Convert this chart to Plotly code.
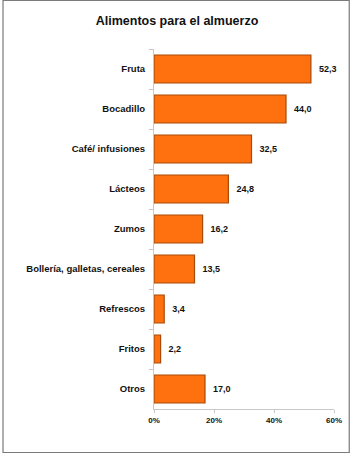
import plotly.graph_objects as go

categories = ["Fruta", "Bocadillo", "Café/ infusiones", "Lácteos", "Zumos",
              "Bollería, galletas, cereales", "Refrescos", "Fritos", "Otros"]
values = [52.3, 44.0, 32.5, 24.8, 16.2, 13.5, 3.4, 2.2, 17.0]
labels = ["\u00a0\u00a0" + f"{v:.1f}".replace(".", ",") for v in values]
x_ticks = [0, 20, 40, 60]
x_ticklabels = ["0%", "20%", "40%", "60%"]

W, H = 354, 455
L, R, T, B = 154, 17, 49, 46
pw, ph = W - L - R, H - T - B

def px(x):
    return (x - L) / pw

def py(y):
    return (H - B - y) / ph

fig = go.Figure()
fig.add_trace(go.Bar(
    x=values, y=categories, orientation="h",
    marker=dict(color="#FF700F", line=dict(color="#A84A08", width=1.2)),
    width=0.7,
    text=labels, textposition="outside", cliponaxis=False,
    textfont=dict(family="Liberation Sans, Arial", size=9, color="#111111", weight="bold"),
    hoverinfo="skip",
))

fig.update_layout(
    width=W, height=H,
    margin=dict(l=L, r=R, t=T, b=B),
    paper_bgcolor="white", plot_bgcolor="white",
    showlegend=False,
    title=dict(text="<b>Alimentos para el almuerzo</b>", x=0.5, xref="container",
               xanchor="center", y=1 - 21 / H, yanchor="middle",
               font=dict(family="Liberation Sans, Arial", size=12.5, color="#111111")),
    font=dict(family="Liberation Sans, Arial", color="#111111"),
    bargap=0.3,
    shapes=[dict(type="rect", xref="paper", yref="paper",
                 x0=px(0.5), x1=px(352.5), y0=py(0.5), y1=py(452.5),
                 line=dict(color="#7a7a7a", width=1.2), fillcolor="rgba(0,0,0,0)", layer="above")],
)
fig.update_xaxes(range=[0, 60], tickvals=x_ticks, ticktext=x_ticklabels,
                 showgrid=False, zeroline=False, showline=True, linecolor="#c8c8c8",
                 linewidth=1, ticks="outside", ticklen=3, tickcolor="#c8c8c8",
                 tickfont=dict(size=8, family="Liberation Sans, Arial", color="#111111", weight="bold"))
fig.update_yaxes(autorange="reversed", showgrid=False, zeroline=False, showline=True,
                 linecolor="#c8c8c8", linewidth=1, ticks="outside", ticklen=4,
                 tickcolor="#c8c8c8", tickson="boundaries", ticklabelstandoff=6,
                 tickfont=dict(size=9.5, family="Liberation Sans, Arial", color="#111111", weight="bold"))

fig.write_html("out.html")
